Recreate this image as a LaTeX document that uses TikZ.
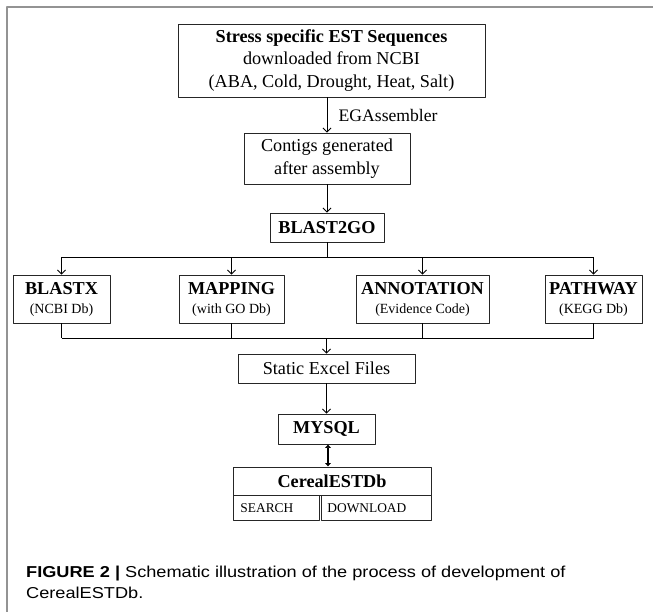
\documentclass[tikz,border=0pt]{standalone}
\usepackage{fontspec}
\setmainfont{Liberation Serif}
\newfontfamily\capfont[FakeStretch=1.15]{Liberation Sans}
\usetikzlibrary{arrows.meta}
\newcommand\txt{\fontsize{18.2}{22.5}\selectfont}
\newcommand\ttl{\fontsize{18.2}{20}\selectfont\bfseries}
\newcommand\sbt{\fontsize{14}{19}\selectfont\mdseries}
\newcommand\cel{\fontsize{13.4}{16}\selectfont}
\tikzset{
  box/.style={draw=black!85, line width=0.9pt, inner sep=0pt, align=center, font=\txt},
  twobox/.style={box, minimum height=48, font=\ttl},
  cell/.style={box, anchor=north west, minimum height=25, align=left, font=\cel}
}
\begin{document}
\begin{tikzpicture}[x=1pt,y=-1pt,>={Straight Barb[length=4pt,width=8pt]}, line join=round]
\useasboundingbox (0,0) rectangle (653,612);
\draw[gray!85, line width=1.5pt] (7,612) -- (7,7) -- (653,7);
% boxes
\node[box, minimum width=307, minimum height=73] (est) at (331.5,60.5) {\textbf{Stress specific EST Sequences}\\downloaded from NCBI\\(ABA, Cold, Drought, Heat, Salt)};
\node[box, minimum width=166, minimum height=51] (contig) at (327,158.5) {Contigs generated\\after assembly};
\node[box, minimum width=114, minimum height=29, font=\ttl] (b2go) at (327,227.5) {BLAST2GO};
\node[twobox, minimum width=97] (blastx) at (61.5,299) {BLASTX\\[-1pt]\sbt (NCBI Db)};
\node[twobox, minimum width=105] (mapping) at (231.5,299) {MAPPING\\[-1pt]\sbt (with GO Db)};
\node[twobox, minimum width=133] (annot) at (422.5,299) {ANNOTATION\\[-1pt]\sbt (Evidence Code)};
\node[twobox, minimum width=97] (pathway) at (593.5,299) {PATHWAY\\[-1pt]\sbt (KEGG Db)};
\node[box, minimum width=177, minimum height=29] (static) at (326.5,368.5) {Static Excel Files};
\node[box, minimum width=97, minimum height=30, font=\ttl] (mysql) at (326.5,429) {MYSQL};
\node[box, minimum width=198, minimum height=28, font=\ttl] (cdb) at (332,481) {CerealESTDb};
\node[cell, text width=72, inner xsep=7pt] (search) at (233,495) {SEARCH};
\node[cell, text width=98, inner xsep=6pt] (download) at (321,495) {DOWNLOAD};
% arrows
\draw[->, line width=0.8pt] (est.south -| contig.north) -- node[anchor=west, xshift=8pt, font=\fontsize{17.6}{20}\selectfont] (ega) {EGAssembler} (contig.north);
\draw[->, line width=0.8pt] (contig) -- (b2go);
\coordinate (split) at (327,257.5);
\coordinate (merge) at (326.5,338);
\draw[line width=0.8pt] (b2go) -- (split);
\draw[line width=0.8pt] (blastx.north |- split) -- (pathway.north |- split);
\foreach \n in {blastx,mapping,annot,pathway}{
  \draw[->, line width=0.8pt] (\n.north |- split) -- (\n.north);
  \draw[line width=0.8pt] (\n.south) -- (\n.south |- merge);
}
\draw[line width=0.8pt] (blastx.south |- merge) -- (pathway.south |- merge);
\draw[->, line width=0.8pt] (merge) -- (static.north);
\draw[->, line width=0.8pt] (static) -- (mysql);
\draw[<->, line width=2.2pt, >={Latex[length=3.5pt,width=6.5pt]}] (mysql.south -| 328,0) -- (cdb.north -| 328,0);
% caption
\node[anchor=base west, inner sep=0, font=\capfont\fontsize{15.8}{21}\selectfont] (cap1) at (26,577) {\textbf{FIGURE 2 |} Schematic illustration of the process of development of};
\node[anchor=base west, inner sep=0, font=\capfont\fontsize{15.8}{21}\selectfont] (cap2) at (26,598) {CerealESTDb.};
\end{tikzpicture}
\end{document}
